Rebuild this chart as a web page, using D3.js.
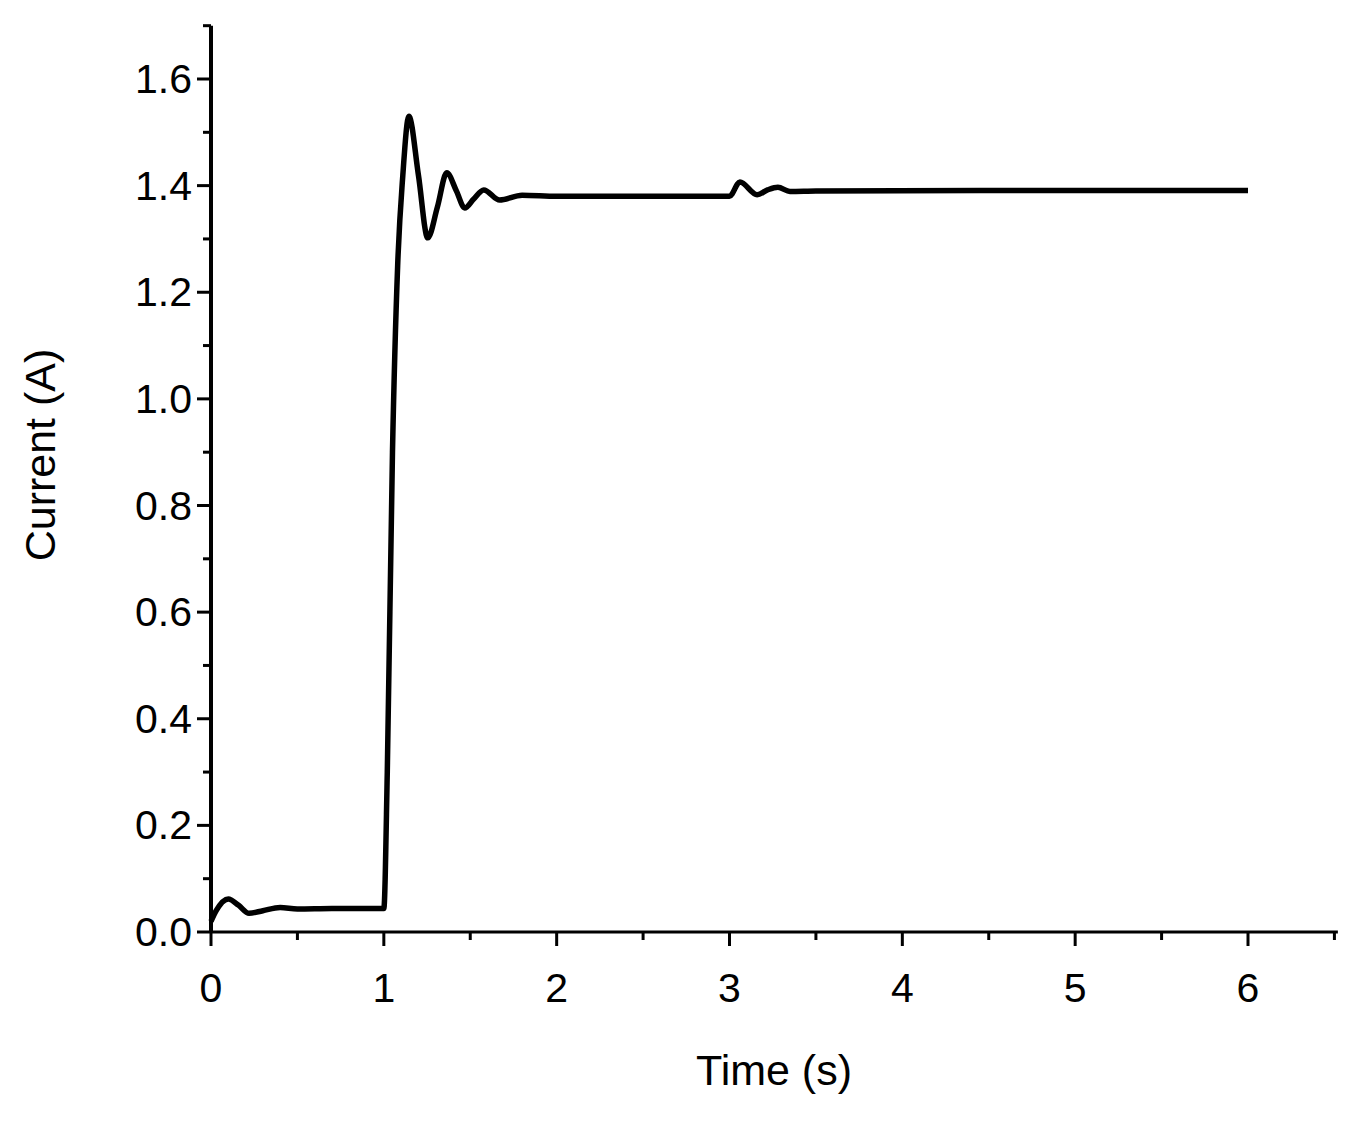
<!DOCTYPE html><html><head><meta charset="utf-8"><script src="https://cdn.jsdelivr.net/npm/d3@7"></script>
<style>body{margin:0;background:#fff}text{font-family:"Liberation Sans",Arial,sans-serif}</style></head><body><svg id="c" width="1364" height="1124"></svg><script>
const time=[0,0.03,0.1,0.16,0.22,0.3,0.4,0.5,0.7,1.0,1.02,1.05,1.08,1.11,1.145,1.2,1.254,1.31,1.364,1.42,1.468,1.52,1.578,1.67,1.8,2.0,2.5,3.0,3.06,3.16,3.22,3.28,3.35,3.5,4.5,6.0];
const current=[0.02,0.04,0.062,0.05,0.035,0.04,0.046,0.043,0.044,0.044,0.3,0.9,1.25,1.42,1.53,1.42,1.302,1.36,1.424,1.39,1.358,1.375,1.392,1.373,1.382,1.38,1.38,1.38,1.407,1.383,1.392,1.397,1.389,1.39,1.391,1.391];
const xTicks=[0,1,2,3,4,5,6], yTicks=[0,0.2,0.4,0.6,0.8,1.0,1.2,1.4,1.6];
const svg=d3.select("#c");
const x=d3.scaleLinear().domain([0,6]).range([211,1248]);
const y=d3.scaleLinear().domain([0,1.6]).range([932,79]);
const x1=x(6.52), yTop=y(1.70);
const g=svg.append("g");
g.append("line").attr("x1",211).attr("x2",x1).attr("y1",932).attr("y2",932).attr("stroke","#000").attr("stroke-width",3);
g.append("line").attr("x1",211).attr("x2",211).attr("y1",932).attr("y2",yTop).attr("stroke","#000").attr("stroke-width",4);
d3.range(0,6.6,0.5).forEach(v=>{const maj=Math.abs(v-Math.round(v))<1e-6;g.append("line").attr("x1",x(v)).attr("x2",x(v)).attr("y1",932).attr("y2",932+(maj?14:8)).attr("stroke","#000").attr("stroke-width",3);});
d3.range(0,1.71,0.1).forEach(v=>{const maj=Math.abs(v*5-Math.round(v*5))<1e-6;g.append("line").attr("x1",211).attr("x2",211-(maj?14:8)).attr("y1",y(v)).attr("y2",y(v)).attr("stroke","#000").attr("stroke-width",3);});
xTicks.forEach(v=>g.append("text").attr("x",x(v)).attr("y",1002).attr("text-anchor","middle").attr("font-size",41).text(v));
yTicks.forEach(v=>g.append("text").attr("x",192).attr("y",y(v)+14).attr("text-anchor","end").attr("font-size",41).text(v.toFixed(1)));
g.append("text").attr("x",774).attr("y",1085).attr("text-anchor","middle").attr("font-size",43).text("Time (s)");
g.append("text").attr("transform","translate(55,455) rotate(-90)").attr("text-anchor","middle").attr("font-size",43).text("Current (A)");
const line=d3.line().x((d,i)=>x(time[i])).y(d=>y(d)).curve(d3.curveMonotoneX);
g.append("path").attr("d",line(current)).attr("fill","none").attr("stroke","#000").attr("stroke-width",5.5);
</script></body></html>
